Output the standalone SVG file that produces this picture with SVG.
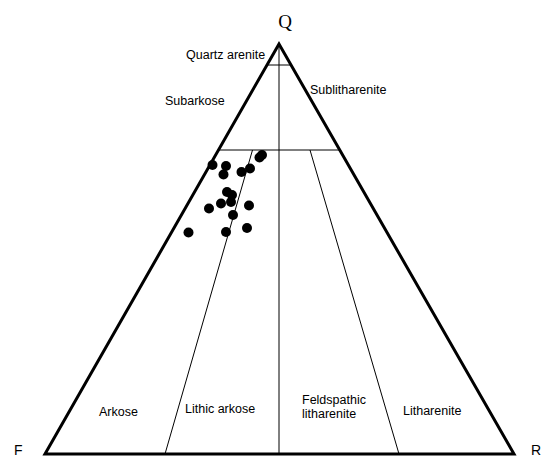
<svg xmlns="http://www.w3.org/2000/svg" width="545" height="459" viewBox="0 0 545 459">
<style>
.lbl{font-family:"Liberation Sans",Arial,sans-serif;font-size:12.5px;fill:#000}
.corner{font-family:"Liberation Sans",Arial,sans-serif;font-size:14px;fill:#000}
.apex{font-family:"Liberation Serif","Times New Roman",serif;font-size:19px;fill:#000}
.thin{stroke:#000;stroke-width:1;fill:none}
.dot{fill:#000}
</style>
<rect width="545" height="459" fill="#fff"/>
<g id="connectors">
<line class="thin" x1="279" y1="44" x2="279" y2="454"/>
<line class="thin" x1="268" y1="65" x2="291" y2="65"/>
<line class="thin" x1="218" y1="150" x2="340" y2="150" stroke="#555"/>
<line class="thin" x1="252.5" y1="150" x2="165" y2="454"/>
<line class="thin" x1="310" y1="150" x2="399" y2="454"/>
</g>
<g id="triangle">
<polygon points="279,44 45,454 514,454" fill="none" stroke="#000" stroke-width="3" stroke-linejoin="miter"/>
</g>
<g id="apex-labels">
<text class="apex" x="285" y="28" text-anchor="middle">Q</text>
<text class="corner" x="14" y="455">F</text>
<text class="corner" x="531" y="455">R</text>
</g>
<g id="field-labels">
<text class="lbl" x="186" y="59">Quartz arenite</text>
<text class="lbl" x="310" y="94">Sublitharenite</text>
<text class="lbl" x="165" y="105">Subarkose</text>
<text class="lbl" x="99" y="416">Arkose</text>
<text class="lbl" x="185" y="413">Lithic arkose</text>
<text class="lbl" x="302" y="404">Feldspathic</text>
<text class="lbl" x="302" y="418">litharenite</text>
<text class="lbl" x="403" y="415">Litharenite</text>
</g>
<g id="data-points">
<circle class="dot" cx="262" cy="155" r="5"/>
<circle class="dot" cx="259.5" cy="157.5" r="5"/>
<circle class="dot" cx="212.5" cy="165" r="5"/>
<circle class="dot" cx="226" cy="166" r="5"/>
<circle class="dot" cx="223.5" cy="174.5" r="5"/>
<circle class="dot" cx="250" cy="168.5" r="5"/>
<circle class="dot" cx="241.5" cy="172" r="5"/>
<circle class="dot" cx="227" cy="192" r="5"/>
<circle class="dot" cx="232" cy="195" r="5"/>
<circle class="dot" cx="231" cy="202" r="5"/>
<circle class="dot" cx="221" cy="203.5" r="5"/>
<circle class="dot" cx="209" cy="208.5" r="5"/>
<circle class="dot" cx="249" cy="205.5" r="5"/>
<circle class="dot" cx="233" cy="215" r="5"/>
<circle class="dot" cx="188.5" cy="232.5" r="5"/>
<circle class="dot" cx="226" cy="232" r="5"/>
<circle class="dot" cx="247" cy="228" r="5"/>
</g>
</svg>
